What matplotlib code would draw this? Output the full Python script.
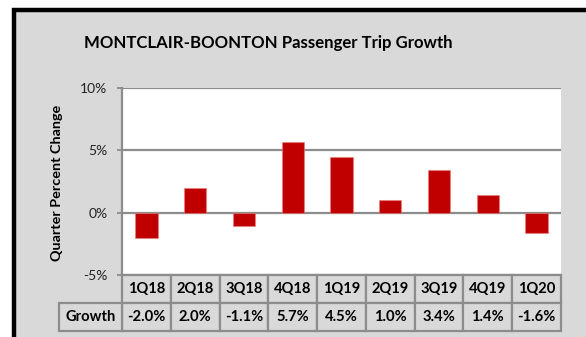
import matplotlib
matplotlib.use("Agg")
import matplotlib.pyplot as plt
from matplotlib.patches import Rectangle
import matplotlib.transforms as mtransforms

# ---- data ----
quarters = ["1Q18", "2Q18", "3Q18", "4Q18", "1Q19", "2Q19", "3Q19", "4Q19", "1Q20"]
growth = [-2.0, 2.0, -1.1, 5.7, 4.5, 1.0, 3.4, 1.4, -1.6]
yticks = [-5, 0, 5, 10]
title = "MONTCLAIR-BOONTON Passenger Trip Growth"
ylabel = "Quarter Percent Change"
row_label = "Growth"

plt.rcParams['font.family'] = ['Lato', 'DejaVu Sans']

W, H = 586, 337
fig = plt.figure(figsize=(W / 100, H / 100), dpi=100)
fig.patch.set_facecolor("white")

BG = "#D9D9D9"
GRID = "#8C8C8C"
RED = "#C00000"

# outer frame (only left & top visible)
fig.patches.append(Rectangle((14 / W, -0.1), 1.2, (H - 10.5) / H + 0.1,
                             transform=fig.transFigure, facecolor=BG,
                             edgecolor="black", linewidth=3.2, zorder=-5))

def fx(px):
    return px / W

def fy(py):
    return 1 - py / H

left, right, top, bottom = 122, 561, 88, 275
ax = fig.add_axes([fx(left), fy(bottom), fx(right) - fx(left), fy(top) - fy(bottom)])
ax.set_zorder(2)
ax.set_facecolor("white")
x = list(range(len(quarters)))
ax.bar(x, growth, width=0.46, color=RED, edgecolor=(0.9, 0.5, 0.5, 0.6),
       linewidth=0.8, zorder=3)
ax.set_xlim(-0.5, len(quarters) - 0.5)
ax.set_ylim(yticks[0], yticks[-1])
ax.set_yticks(yticks)
ax.set_yticklabels([f"{t}%" for t in yticks], fontsize=10, color="#222222")
ax.set_xticks([])
for t in yticks:
    ax.axhline(t, color=GRID, linewidth=1.6, zorder=2)
for s in ["top", "right", "bottom"]:
    ax.spines[s].set_visible(False)
ax.spines["left"].set_color(GRID)
ax.spines["left"].set_linewidth(1.6)
ax.tick_params(axis="y", length=3.6, width=1.3, color=GRID, pad=7)

fig.text(fx(57), fy(183), ylabel, rotation=90, ha="center", va="center",
         fontsize=10.4, fontweight="bold", color="black")
fig.text(fx(268), fy(43), title, ha="center", va="center",
         fontsize=12.1, fontweight="bold", color="black")

# ---- data table ----
trans = mtransforms.blended_transform_factory(ax.transData, ax.transAxes)
axh = bottom - top
r1 = -(303 - bottom) / axh
r2 = -(331 - bottom) / axh
lab_left = -0.5 - (left - 59) * len(quarters) / (right - left)
lw = 1.6
fs = 10.6
for i, (q, g) in enumerate(zip(quarters, growth)):
    ax.add_patch(Rectangle((i - 0.5, r1), 1, -r1, transform=trans, facecolor=BG,
                           edgecolor=GRID, linewidth=lw, clip_on=False, zorder=1))
    ax.add_patch(Rectangle((i - 0.5, r2), 1, r1 - r2, transform=trans, facecolor=BG,
                           edgecolor=GRID, linewidth=lw, clip_on=False, zorder=1))
    ax.text(i, r1 / 2, q, transform=trans, ha="center", va="center",
            fontsize=fs, fontweight="bold", clip_on=False)
    ax.text(i, (r1 + r2) / 2, f"{g:.1f}%", transform=trans, ha="center", va="center",
            fontsize=fs, fontweight="bold", clip_on=False)
ax.add_patch(Rectangle((lab_left, r2), -0.5 - lab_left, r1 - r2, transform=trans,
                       facecolor=BG, edgecolor=GRID, linewidth=lw, clip_on=False, zorder=1))
ax.text((lab_left - 0.5) / 2, (r1 + r2) / 2, row_label, transform=trans, ha="center",
        va="center", fontsize=fs, fontweight="bold", clip_on=False)

fig.savefig("out.png", dpi=100, facecolor=fig.get_facecolor())
